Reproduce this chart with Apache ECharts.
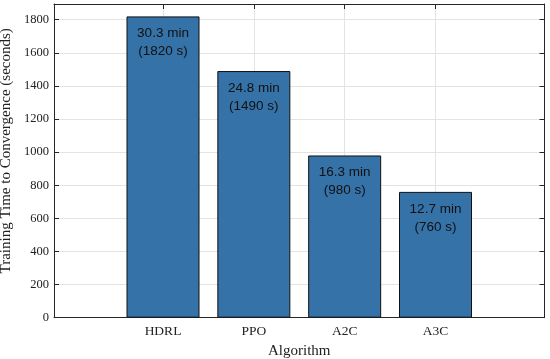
<!DOCTYPE html>
<html><head><meta charset="utf-8">
<script src="https://cdn.jsdelivr.net/npm/echarts@6/dist/echarts.min.js"></script>
<style>html,body{margin:0;padding:0;background:#fff}#c{width:550px;height:359px}</style>
</head><body><div id="c"></div>
<script>
const categories = ['HDRL', 'PPO', 'A2C', 'A3C'];
const seconds = [1820, 1490, 980, 760];
const minutes = ['30.3', '24.8', '16.3', '12.7'];
const yTicks = [0, 200, 400, 600, 800, 1000, 1200, 1400, 1600, 1800];
const xPos = [0, 1, 2, 3];

const chart = echarts.init(document.getElementById('c'), null, {renderer: 'canvas'});
const serif = 'Liberation Serif';
const axisCol = '#262626';
const gridCol = '#e3e3e3';
const xBase = {
  type: 'value', min: -1.2, max: 4.2,
  axisLine: {show: true, onZero: false, lineStyle: {color: axisCol, width: 1}},
  axisTick: {show: true, inside: true, length: 5, customValues: xPos, lineStyle: {color: axisCol}},
  splitLine: {show: false}
};
const yBase = {
  type: 'value', min: 0, max: 1895,
  axisLine: {show: true, onZero: false, lineStyle: {color: axisCol, width: 1}},
  axisTick: {show: true, inside: true, length: 5, customValues: yTicks, lineStyle: {color: axisCol}},
  splitLine: {show: false}
};
chart.setOption({
  animation: false,
  grid: {left: 54, right: 5.5, top: 4, bottom: 41.3, containLabel: false, outerBoundsMode: 'none'},
  xAxis: [
    Object.assign({}, xBase, {
      position: 'bottom',
      name: 'Algorithm', nameLocation: 'middle', nameGap: 22,
      nameTextStyle: {fontFamily: serif, fontSize: 15, color: '#222'},
      axisLabel: {show: true, customValues: xPos, margin: 7, fontFamily: serif, fontSize: 13.5, color: '#222',
        formatter: v => categories[Math.round(v)] || ''},
      splitLine: {show: true, lineStyle: {color: gridCol, width: 1}}
    }),
    Object.assign({}, xBase, {position: 'top', axisLabel: {show: false}})
  ],
  yAxis: [
    Object.assign({}, yBase, {
      position: 'left',
      name: 'Training Time to Convergence (seconds)', nameLocation: 'middle', nameGap: 36,
      nameTextStyle: {fontFamily: serif, fontSize: 15, color: '#222', padding: [0, 0, 0, 20]},
      axisLabel: {show: true, customValues: yTicks, margin: 5, fontFamily: serif, fontSize: 12.5, color: '#222',
        formatter: v => String(v)},
      splitLine: {show: true, lineStyle: {color: gridCol, width: 1}}
    }),
    Object.assign({}, yBase, {position: 'right', axisLabel: {show: false}})
  ],
  series: [{
    type: 'bar',
    xAxisIndex: 0, yAxisIndex: 0,
    barWidth: 73,
    data: xPos.map((x, i) => [x, seconds[i]]),
    itemStyle: {color: '#3572a8', borderColor: '#111', borderWidth: 1},
    label: {
      show: true, position: 'insideTop', distance: 8,
      fontFamily: 'Liberation Sans', fontSize: 13.5, lineHeight: 18, color: '#111', align: 'center',
      formatter: p => minutes[p.dataIndex] + ' min\n(' + seconds[p.dataIndex] + ' s)'
    }
  }]
});
</script></body></html>
